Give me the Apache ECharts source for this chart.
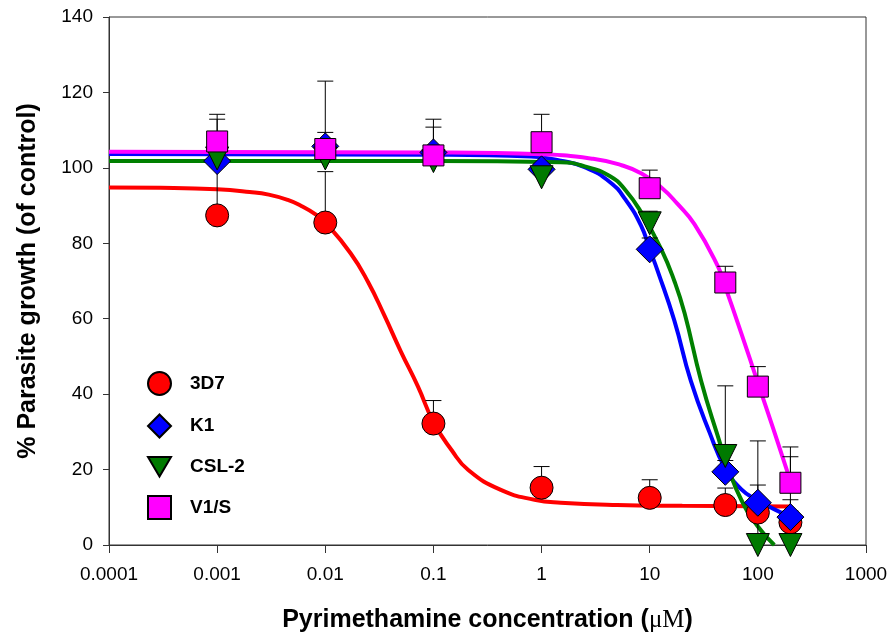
<!DOCTYPE html>
<html>
<head>
<meta charset="utf-8">
<script src="https://cdn.jsdelivr.net/npm/echarts@6/dist/echarts.min.js"></script>
<style>
html,body{margin:0;padding:0;background:#fff;}
#chart{width:894px;height:641px;}
</style>
</head>
<body>
<div id="chart"></div>
<script>
// ---- data ----
var conc = [0.001, 0.01, 0.1, 1, 10, 50, 100, 200];
var xTickLabels = ['0.0001', '0.001', '0.01', '0.1', '1', '10', '100', '1000'];

var val3D7  = [87.4, 85.5, 32.2, 15.2, 12.5, 10.6, 8.6, 6.0];
var valK1   = [101.8, 105.7, 104.1, 99.6, 78.4, 19.4, 11.2, 7.4];
var valCSL2 = [102.5, 102.5, 101.8, 97.5, 85.3, 23.6, 0, 0];
var valV1S  = [107.0, 105.0, 103.3, 106.8, 94.6, 69.6, 42.0, 16.5];

var err3D7  = [13, 13.5, 6.1, 5.6, 4.8, 4.5, 3, 3];
var errK1   = [11.1, 3.7, 6.7, 1.5, 3, 3, 4.7, 4.6];
var errCSL2 = [2, 2, 2, 2, 3.2, 18.6, 27.6, 23.4];
var errV1S  = [7.2, 18, 9.6, 7.4, 4.8, 4.3, 5.3, 9.5];

// fitted curves
var curve3D7X = [0.0001, 0.0003, 0.001, 0.002, 0.003, 0.0045, 0.006, 0.008, 0.01, 0.0172, 0.025, 0.035, 0.05, 0.072, 0.1, 0.147, 0.21, 0.42, 0.86, 1.5, 5, 20, 200];
var curve3D7Y = [94.8, 94.7, 94.3, 93.6, 92.9, 91.5, 89.9, 87.8, 85.5, 77.3, 69.6, 61.0, 51.3, 42.0, 32.6, 25.2, 19.9, 14.6, 12.0, 11.2, 10.6, 10.4, 10.2];
var curveK1X = [0.0001, 0.1, 0.8, 1.5, 2.5, 4.3, 6, 8.34, 10, 11.9, 16.9, 24, 35.8, 49.6, 70, 100, 200];
var curveK1Y = [103.7, 103.5, 103.0, 101.9, 100.2, 96.2, 91.5, 84.6, 78.4, 72.5, 59.5, 43.5, 29.8, 20.5, 14.8, 11.8, 7.4];
var curveCSL2X = [0.0001, 0.1, 1.5, 2.5, 4.3, 6, 8.34, 12.8, 17, 21, 29.9, 42.7, 52.9, 70.2, 100, 142];
var curveCSL2Y = [101.8, 101.8, 101.5, 100.4, 97.8, 94.0, 88.2, 78.4, 69.8, 61.5, 43.5, 28.8, 20.6, 12.0, 4.9, 0];
var curveV1SX = [0.0001, 0.1, 1, 3, 5.5, 8.4, 12.8, 18, 26, 42.7, 49.2, 70.2, 100, 140, 203];
var curveV1SY = [104.3, 104.1, 103.6, 102.4, 100.7, 98.5, 94.8, 90.5, 85.0, 73.9, 69.0, 56.2, 43.0, 30.5, 16.4];

function pairs(xs, ys) { return xs.map(function (x, i) { return [x, ys[i]]; }); }
function triples(xs, ys, es) { return xs.map(function (x, i) { return [x, ys[i], es[i]]; }); }

var FONT = "'Liberation Sans', Arial, sans-serif";

function errRender(params, api) {
  var x = api.value(0), y = api.value(1), e = api.value(2);
  var p0 = api.coord([x, y]);
  var p1 = api.coord([x, y + e]);
  return {
    type: 'group',
    children: [
      { type: 'line', shape: { x1: p0[0], y1: p0[1], x2: p1[0], y2: p1[1] }, style: { stroke: '#000', lineWidth: 1 } },
      { type: 'line', shape: { x1: p1[0] - 8, y1: p1[1], x2: p1[0] + 8, y2: p1[1] }, style: { stroke: '#000', lineWidth: 1 } }
    ]
  };
}

var DOWN_TRI = 'path://M0,0 L20,0 L10,17 Z';
var strains = [
  { name: '3D7', vals: val3D7, errs: err3D7, cx: curve3D7X, cy: curve3D7Y, color: '#ff0000', symbol: 'circle', size: 23, rot: 0, icon: 'circle' },
  { name: 'K1', vals: valK1, errs: errK1, cx: curveK1X, cy: curveK1Y, color: '#0000ff', symbol: 'diamond', size: 27, rot: 0, icon: 'diamond' },
  { name: 'CSL-2', vals: valCSL2, errs: errCSL2, cx: curveCSL2X, cy: curveCSL2Y, color: '#007a00', symbol: 'triangle', size: 23, rot: 180, icon: DOWN_TRI },
  { name: 'V1/S', vals: valV1S, errs: errV1S, cx: curveV1SX, cy: curveV1SY, color: '#ff00ff', symbol: 'rect', size: 21, rot: 0, icon: 'rect' }
];
var lineColors = { '3D7': '#ff0000', 'K1': '#0000ff', 'CSL-2': '#008000', 'V1/S': '#ff00ff' };

var series = [];
strains.forEach(function (s) {
  series.push({
    name: s.name + ' fit', type: 'line', data: pairs(s.cx, s.cy),
    showSymbol: false, smooth: 0.5,
    lineStyle: { color: lineColors[s.name], width: 4 },
    z: 2, silent: true
  });
});
strains.forEach(function (s) {
  series.push({
    name: s.name + ' err', type: 'custom', renderItem: errRender,
    data: triples(conc, s.vals, s.errs), z: 3, silent: true
  });
});
strains.forEach(function (s, k) {
  series.push({
    name: s.name, type: 'scatter', data: pairs(conc, s.vals),
    symbol: s.symbol, symbolSize: s.size, symbolRotate: s.rot,
    itemStyle: { color: s.color, borderColor: '#000', borderWidth: 1, opacity: 1 },
    z: 4 + k * 0.1
  });
});

var chart = echarts.init(document.getElementById('chart'), null, { renderer: 'canvas' });
chart.setOption({
  animation: false,
  backgroundColor: '#fff',
  grid: { left: 109, right: 28, top: 17, bottom: 96, show: true, borderColor: '#333', borderWidth: 1 },
  legend: {
    data: strains.map(function (s) { return { name: s.name, icon: s.icon }; }),
    orient: 'vertical', left: 142, top: 366,
    itemWidth: 23, itemHeight: 23, itemGap: 17.5,
    textStyle: { fontFamily: FONT, fontWeight: 'bold', fontSize: 19, color: '#000', padding: [0, 0, 0, 14] }
  },
  xAxis: {
    type: 'log', logBase: 10, min: 0.0001, max: 1000,
    name: '{a|Pyrimethamine concentration (}{b|\u03bcM}{a|)}',
    nameLocation: 'middle', nameGap: 63,
    nameTextStyle: {
      rich: {
        a: { fontFamily: FONT, fontWeight: 'bold', fontSize: 25, color: '#000' },
        b: { fontFamily: "'Liberation Serif', 'Times New Roman', serif", fontWeight: 'normal', fontSize: 25, color: '#000' }
      }
    },
    axisLine: { show: true, onZero: false, lineStyle: { color: '#333', width: 1 } },
    axisTick: { show: true, inside: false, length: 8, lineStyle: { color: '#333' } },
    minorTick: { show: false },
    splitLine: { show: false },
    axisLabel: {
      margin: 20, fontFamily: FONT, fontSize: 19, color: '#000',
      formatter: function (v) {
        var i = Math.round(Math.log10(v)) + 4;
        return xTickLabels[i] !== undefined ? xTickLabels[i] : '';
      }
    }
  },
  yAxis: {
    type: 'value', min: 0, max: 140, interval: 20,
    name: '% Parasite growth (of control)',
    nameLocation: 'middle', nameGap: 68,
    nameTextStyle: { fontFamily: FONT, fontWeight: 'bold', fontSize: 25, color: '#000' },
    axisLine: { show: true, lineStyle: { color: '#333', width: 1 } },
    axisTick: { show: true, inside: false, length: 6, lineStyle: { color: '#333' } },
    splitLine: { show: false },
    axisLabel: { margin: 16, fontFamily: FONT, fontSize: 19, color: '#000' }
  },
  series: series
});
</script>
</body>
</html>
